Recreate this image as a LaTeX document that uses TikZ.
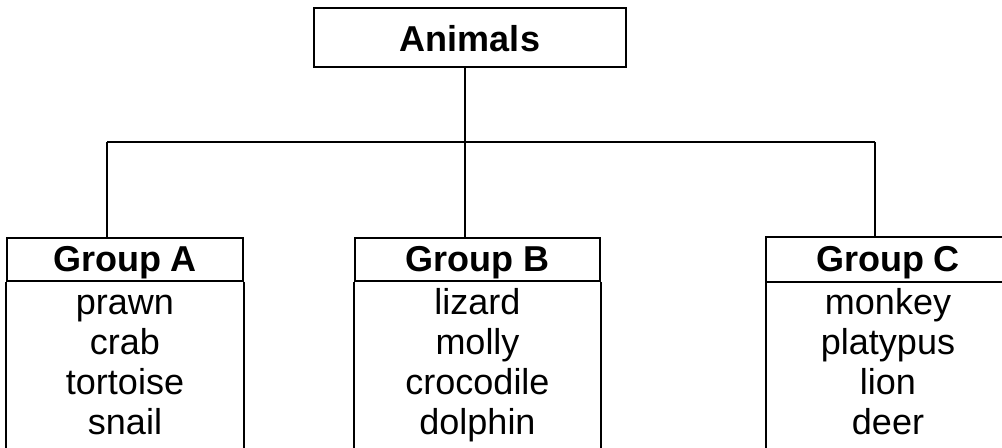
\documentclass[tikz,border=0pt]{standalone}
\usepackage{fontspec}
\setmainfont{Liberation Sans}
\usetikzlibrary{positioning}

\tikzset{
	topbox/.style={draw, inner sep=0pt, minimum width=156pt, minimum height=29.5pt,
		font=\fontsize{18}{20}\selectfont\bfseries, text height=15pt, text depth=0.5pt},
	groupbox/.style={draw, inner sep=0pt, minimum height=21.5pt,
		font=\fontsize{18}{20}\selectfont\bfseries, text height=13pt, text depth=0.5pt},
	item/.style={inner sep=0pt, anchor=base, font=\fontsize{18}{20}\selectfont},
}

\begin{document}
\begin{tikzpicture}[x=0.5pt, y=-0.5pt, line width=1pt]
	\useasboundingbox (0,0) rectangle (1002,448);
	\clip (0,0) rectangle (1002,448);
	\node[topbox] (animals) at (470,37.5) {Animals};
	\node[groupbox, minimum width=118pt] (gA) at (125,259.5) {Group A};
	\node[groupbox, minimum width=122.5pt] (gB) at (477.5,259.5) {Group B};
	% Group C runs off the right edge
	\node[groupbox, draw=none, minimum width=121pt] (gC) at (888,259.5) {Group C};
	\draw ([xshift=40pt]gC.north east) -- (gC.north west) -- (gC.south west) -- ([xshift=40pt]gC.south east);
	% group bodies, open at the bottom
	\draw (gA.south west) -- ++(0,200) (gA.south east) -- ++(0,200);
	\draw (gB.south west) -- ++(0,200) (gB.south east) -- ++(0,200);
	\draw (gC.south west) -- ++(0,200);
	\foreach \t [count=\i] in {prawn,crab,tortoise,snail}
		\node[item] (a\i) at (125,275+40*\i) {\t};
	\foreach \t [count=\i] in {lizard,molly,crocodile,dolphin}
		\node[item] (b\i) at (477.5,275+40*\i) {\t};
	\foreach \t [count=\i] in {monkey,platypus,lion,deer}
		\node[item] (c\i) at (888,275+40*\i) {\t};
	% connectors
	\coordinate (jA) at (107,142);
	\coordinate (jB) at (465,142);
	\coordinate (jC) at (875,142);
	\draw (jA) -- (jC);
	\draw (animals.south -| jB) -- (jB);
	\draw (jA) -- (jA |- gA.north);
	\draw (jB) -- (jB |- gB.north);
	\draw (jC) -- (jC |- gC.north);
\end{tikzpicture}
\end{document}
